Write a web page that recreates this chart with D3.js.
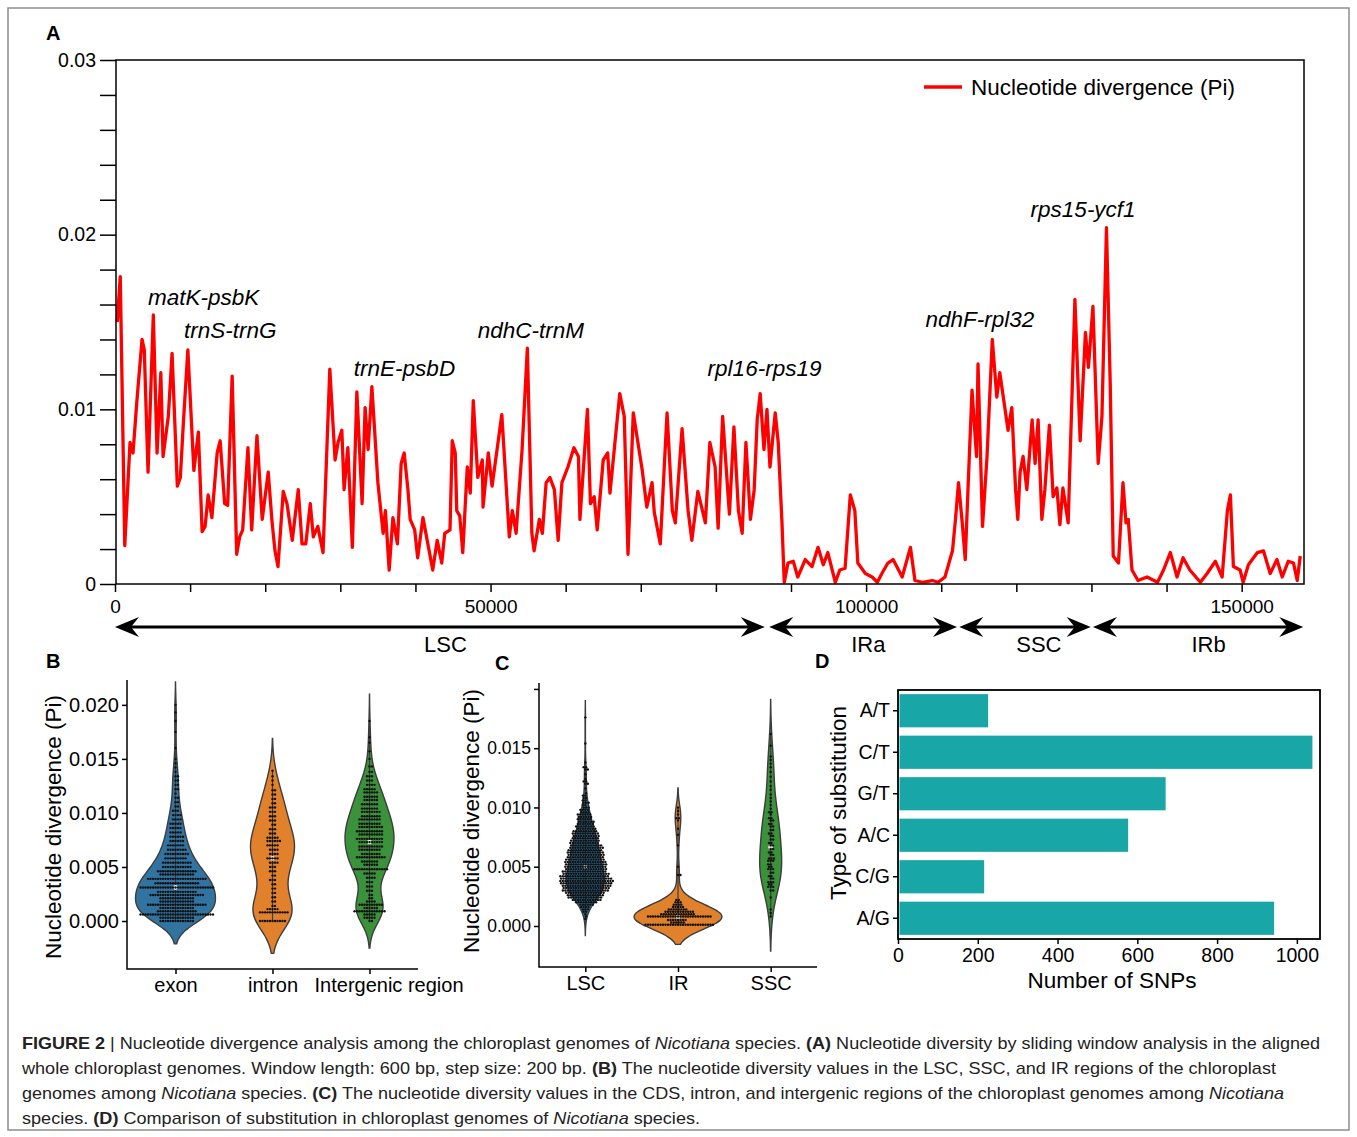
<!DOCTYPE html>
<html>
<head>
<meta charset="utf-8">
<script src="https://cdn.jsdelivr.net/npm/d3@7"></script>
<style>
  body { margin: 0; background: #fff; }
  svg text { font-family: "Liberation Sans", Arial, Helvetica, sans-serif; fill: #000; }
</style>
</head>
<body>
<svg id="fig" width="1357" height="1137"></svg>
<script>
// ---- data: panel A, sliding-window Pi (position bp, Pi) ----
const slidingWindow = [
  [300, .0150], [700, .0176], [1300, .0022], [2000, .0081], [2400, .0075], [2900, .0104], [3600, .0140], [3900, .0134],
  [4400, .0064], [5100, .0154], [5600, .0075], [6100, .0121], [6400, .0073], [7100, .0096], [7600, .0132], [8300, .0056],
  [8700, .0061], [9100, .0092], [9700, .0134], [10500, .0065], [11100, .0087], [11600, .0030], [12000, .0033], [12400, .0051],
  [12900, .0038], [13600, .0075], [14000, .0082], [14600, .0046], [15000, .0045], [15600, .0119], [16200, .0017], [16600, .0027],
  [17000, .0031], [17700, .0078], [18200, .0031], [18900, .0085], [19600, .0037], [20400, .0064], [20900, .0036], [21300, .0019],
  [21700, .0010], [22400, .0053], [22900, .0046], [23600, .0025], [24400, .0054], [24900, .0023], [25400, .0023], [26000, .0046],
  [26400, .0027], [27000, .0033], [27700, .0018], [28600, .0123], [29300, .0071], [29700, .0081], [30200, .0088], [30500, .0054],
  [31000, .0078], [31600, .0021], [32200, .0110], [32900, .0046], [33300, .0101], [33700, .0077], [34200, .0113], [35000, .0058],
  [35700, .0029], [36000, .0042], [36500, .0008], [37000, .0038], [37600, .0023], [38100, .0069], [38500, .0075], [39000, .0054],
  [39300, .0037], [39900, .0031], [40300, .0015], [41000, .0038], [42300, .0008], [42900, .0025], [43500, .0012], [43900, .0029],
  [44600, .0031], [44900, .0082], [45300, .0075], [45500, .0042], [45900, .0039], [46300, .0018], [46900, .0067], [47300, .0052],
  [47700, .0105], [48300, .0061], [48900, .0071], [49000, .0044], [49700, .0075], [50200, .0056], [50900, .0078], [51500, .0097],
  [52500, .0027], [52900, .0042], [53400, .0029], [54200, .0077], [54900, .0135], [55500, .0029], [55800, .0019], [56500, .0037],
  [56900, .0029], [57400, .0058], [57900, .0061], [58500, .0054], [59000, .0025], [59500, .0058], [60300, .0067], [61100, .0078],
  [61700, .0073], [61900, .0037], [62900, .0100], [63300, .0046], [63800, .0050], [64200, .0031], [65000, .0071], [65600, .0075],
  [65900, .0052], [67200, .0109], [67800, .0096], [68300, .0017], [69000, .0098], [70200, .0065], [70800, .0044], [71500, .0058],
  [71800, .0041], [72600, .0023], [73500, .0098], [74200, .0042], [74600, .0035], [75500, .0089], [76300, .0042], [76800, .0025],
  [77600, .0053], [78600, .0035], [79200, .0081], [79900, .0067], [80300, .0032], [80900, .0096], [81800, .0040], [82400, .0090],
  [83000, .0042], [83500, .0029], [84000, .0081], [84600, .0037], [85100, .0054], [85500, .0094], [85900, .0109], [86400, .0077],
  [86800, .0100], [87200, .0067], [87900, .0098], [88300, .0081], [88800, .0035], [89100, .0001], [89600, .0012], [90300, .0013],
  [90900, .0004], [91900, .0014], [92800, .0010], [93600, .0021], [94300, .0011], [94900, .0018], [95900, .0001], [96500, .0008],
  [97200, .0009], [97900, .0051], [98500, .0042], [98900, .0012], [99900, .0006], [100800, .0004], [101500, .0001], [102100, .0006],
  [102900, .0012], [103600, .0014], [104800, .0004], [105900, .0021], [106500, .0002], [107500, .0001], [108800, .0002], [109600, .0001],
  [110500, .0004], [111500, .0019], [111900, .0037], [112300, .0058], [112800, .0035], [113200, .0014], [113600, .0058], [114100, .0111],
  [114700, .0073], [114900, .0126], [115500, .0033], [116100, .0073], [116800, .0140], [117400, .0107], [117800, .0121], [118900, .0088],
  [119400, .0101], [119900, .0054], [120200, .0037], [120500, .0064], [120900, .0073], [121400, .0054], [122100, .0094], [122500, .0069],
  [122900, .0094], [123400, .0037], [123800, .0054], [124400, .0091], [124900, .0050], [125400, .0055], [125800, .0034], [126200, .0055],
  [126900, .0035], [127800, .0163], [128500, .0082], [129200, .0144], [129600, .0124], [130200, .0159], [130900, .0069], [131400, .0096],
  [132000, .0204], [132500, .0115], [132900, .0016], [133600, .0012], [134200, .0058], [134600, .0035], [134900, .0037], [135400, .0008],
  [136200, .0002], [137400, .0004], [138800, .0001], [139600, .0008], [140500, .0018], [141400, .0004], [142200, .0015], [143100, .0008],
  [144500, .0001], [145400, .0006], [146500, .0013], [147400, .0004], [148100, .0042], [148500, .0051], [148900, .0010], [149800, .0008],
  [150200, .0001], [150900, .0011], [152100, .0018], [152900, .0019], [153800, .0006], [154700, .0014], [155400, .0004], [156200, .0013],
  [156900, .0012], [157400, .0002], [157800, .0016]
]

const regions = [
  { name: 'LSC', start: 0, end: 86500, label: 44000 },
  { name: 'IRa', start: 87100, end: 112100, label: 100300 },
  { name: 'SSC', start: 112400, end: 129900, label: 123000 },
  { name: 'IRb', start: 130200, end: 158200, label: 145600 },
]

const geneLabels = [
  { text: 'matK-psbK', pos: 4400, y: .0160 },
  { text: 'trnS-trnG', pos: 9200, y: .0141 },
  { text: 'trnE-psbD', pos: 31800, y: .0119 },
  { text: 'ndhC-trnM', pos: 48300, y: .0141 },
  { text: 'rpl16-rps19', pos: 78900, y: .0119 },
  { text: 'ndhF-rpl32', pos: 107900, y: .0147 },
  { text: 'rps15-ycf1', pos: 121900, y: .0210 },
]

// ---- data: panel B (value level, number of windows at that level) ----
const categoriesB = ['exon', 'intron', 'Intergenic region']
const exonLevels = [
  [.0000, 14], [.0003, 14], [.0006, 30], [.0009, 16], [.0012, 14], [.0015, 24], [.0018, 14], [.0021, 14],
  [.0024, 22], [.0027, 16], [.0031, 30], [.0035, 18], [.0039, 24], [.0043, 14], [.0046, 16], [.0050, 12],
  [.0054, 12], [.0058, 9], [.0062, 10], [.0066, 8], [.0070, 7], [.0074, 6], [.0078, 6], [.0082, 5],
  [.0086, 5], [.0090, 5], [.0094, 4], [.0098, 4], [.0102, 3], [.0106, 2], [.0110, 2], [.0114, 2],
  [.0118, 1], [.0122, 2], [.0126, 2], [.0130, 2], [.0134, 2], [.0138, 1], [.0142, 1], [.0146, 1],
  [.0150, 1], [.0160, 1], [.0175, 1], [.0185, 1], [.0193, 1], [.0200, 1]
]
const intronLevels = [
  [.0000, 11], [.0008, 12], [.0011, 5], [.0014, 2], [.0018, 2], [.0022, 2], [.0026, 2], [.0030, 2],
  [.0034, 2], [.0038, 3], [.0042, 2], [.0046, 3], [.0050, 3], [.0054, 4], [.0058, 5], [.0062, 4],
  [.0066, 4], [.0070, 5], [.0074, 6], [.0077, 5], [.0081, 3], [.0085, 3], [.0089, 2], [.0093, 3],
  [.0097, 3], [.0101, 3], [.0105, 3], [.0109, 2], [.0113, 2], [.0117, 2], [.0121, 2], [.0126, 1],
  [.0130, 1], [.0134, 1], [.0139, 1]
]
const intergenicLevels = [
  [.0000, 2], [.0003, 5], [.0006, 5], [.0009, 13], [.0012, 6], [.0015, 10], [.0018, 4], [.0021, 2],
  [.0024, 2], [.0028, 3], [.0032, 3], [.0036, 3], [.0040, 4], [.0044, 5], [.0048, 14], [.0052, 6],
  [.0055, 7], [.0059, 12], [.0062, 8], [.0066, 9], [.0069, 10], [.0073, 10], [.0076, 11], [.0080, 10],
  [.0083, 11], [.0087, 10], [.0090, 9], [.0094, 9], [.0097, 8], [.0101, 8], [.0104, 7], [.0108, 7],
  [.0112, 6], [.0115, 6], [.0119, 6], [.0122, 5], [.0126, 4], [.0130, 3], [.0134, 3], [.0138, 2],
  [.0143, 2], [.0150, 1], [.0157, 1], [.0165, 1], [.0170, 1], [.0185, 1]
]

// ---- data: panel C ----
const categoriesC = ['LSC', 'IR', 'SSC']
const lscLevels = [
  [.0006, 1], [.0008, 1], [.0010, 1], [.0012, 2], [.0014, 3], [.0016, 4], [.0018, 6], [.0020, 9],
  [.0022, 12], [.0024, 14], [.0026, 15], [.0028, 16], [.0030, 19], [.0032, 19], [.0034, 20], [.0036, 21],
  [.0038, 22], [.0040, 21], [.0042, 20], [.0044, 19], [.0046, 18], [.0048, 17], [.0050, 17], [.0052, 17],
  [.0054, 17], [.0056, 16], [.0058, 15], [.0060, 15], [.0062, 15], [.0064, 14], [.0066, 14], [.0068, 13],
  [.0070, 12], [.0072, 12], [.0074, 11], [.0076, 11], [.0078, 11], [.0080, 10], [.0082, 8], [.0084, 8],
  [.0086, 7], [.0088, 7], [.0090, 6], [.0092, 6], [.0094, 6], [.0096, 4], [.0098, 4], [.0100, 3],
  [.0102, 2], [.0104, 3], [.0106, 2], [.0108, 2], [.0110, 2], [.0112, 1], [.0116, 1], [.0120, 2],
  [.0122, 2], [.0124, 1], [.0128, 1], [.0132, 2], [.0134, 2], [.0138, 1], [.0154, 1], [.0176, 1]
]
const irLevels = [
  [.0001, 28], [.0003, 6], [.0005, 8], [.0008, 26], [.0010, 14], [.0012, 12], [.0014, 8], [.0016, 5],
  [.0018, 4], [.0020, 3], [.0022, 2], [.0043, 2], [.0050, 1], [.0068, 1], [.0077, 1], [.0082, 1],
  [.0089, 1], [.0091, 2], [.0094, 1], [.0097, 1], [.0100, 1]
]
const sscLevels = [
  [.0008, 1], [.0011, 1], [.0014, 1], [.0024, 1], [.0030, 2], [.0033, 3], [.0035, 2], [.0037, 3],
  [.0040, 2], [.0042, 2], [.0045, 2], [.0048, 3], [.0050, 2], [.0052, 2], [.0055, 3], [.0057, 3],
  [.0060, 2], [.0062, 2], [.0065, 2], [.0068, 2], [.0070, 2], [.0073, 2], [.0076, 2], [.0078, 2],
  [.0081, 2], [.0084, 2], [.0086, 2], [.0089, 2], [.0091, 2], [.0094, 1], [.0096, 2], [.0099, 1],
  [.0102, 1], [.0105, 1], [.0108, 1], [.0111, 1], [.0115, 1], [.0118, 1], [.0122, 1], [.0126, 1],
  [.0130, 1], [.0134, 1], [.0137, 1], [.0140, 1], [.0143, 1], [.0152, 1], [.0162, 1]
]

// ---- data: panel D ----
const substitutions = ['A/T', 'C/T', 'G/T', 'A/C', 'C/G', 'A/G']
const snpCounts = [226, 1039, 671, 577, 216, 943]

const violinColors = ['#3274a1', '#e1812c', '#3a923a']

const svg = d3.select('#fig')

svg.append('rect')
  .attr('x', 8).attr('y', 8).attr('width', 1341).attr('height', 1122)
  .attr('fill', 'none').attr('stroke', '#8d8d8d').attr('stroke-width', 1.5)

const styleAxis = (g, size) => {
  g.attr('font-family', null).attr('font-size', size)
  g.select('.domain').remove()
  g.selectAll('line').attr('stroke', '#000').attr('stroke-width', 1.5)
  g.selectAll('text').attr('fill', '#000')
}

const panelLabel = (x, y, t) => svg.append('text')
  .attr('x', x).attr('y', y).attr('font-size', 20).attr('font-weight', 'bold').text(t)

// ================= panel A =================
const xA = d3.scaleLinear().domain([0, 158300]).range([115, 1304])
const yA = d3.scaleLinear().domain([0, 0.03]).range([584, 60])
const gA = svg.append('g')

panelLabel(46, 40, 'A')

gA.append('g')
  .attr('transform', 'translate(116,0)')
  .call(d3.axisLeft(yA)
    .tickValues(d3.range(16).map(i => i * 0.002))
    .tickSize(16).tickPadding(4)
    .tickFormat((d, i) => i % 5 ? '' : (i === 0 ? '0' : d3.format('.2f')(d))))
  .call(g => styleAxis(g, 19.5))

gA.append('g')
  .attr('transform', 'translate(0,584)')
  .call(d3.axisBottom(xA)
    .tickValues(d3.range(0, 160000, 10000))
    .tickSize(8).tickPadding(8)
    .tickFormat(d => d % 50000 ? '' : d))
  .call(g => styleAxis(g, 19))

gA.append('path')
  .datum(slidingWindow)
  .attr('fill', 'none')
  .attr('stroke', '#ff0000')
  .attr('stroke-width', 3.3)
  .attr('stroke-linejoin', 'round')
  .attr('d', d3.line().x(d => xA(d[0])).y(d => yA(d[1])))

gA.append('rect')
  .attr('x', 116).attr('y', 60).attr('width', 1188).attr('height', 524)
  .attr('fill', 'none').attr('stroke', '#000').attr('stroke-width', 1.5)

gA.selectAll('.gene')
  .data(geneLabels)
  .join('text')
  .attr('class', 'gene')
  .attr('x', d => xA(d.pos))
  .attr('y', d => yA(d.y))
  .attr('font-size', 22.5)
  .attr('font-style', 'italic')
  .text(d => d.text)

// legend
gA.append('line')
  .attr('x1', 924).attr('x2', 962).attr('y1', 87).attr('y2', 87)
  .attr('stroke', '#ff0000').attr('stroke-width', 3.3)
gA.append('text')
  .attr('x', 971).attr('y', 95).attr('font-size', 22.5)
  .text('Nucleotide divergence (Pi)')

// region arrows
const arrowY = 627
const head = (x, dir) => {
  const l = 24, h = 10, n = 16
  return `M${x},${arrowY}L${x - dir * l},${arrowY - h}L${x - dir * n},${arrowY}L${x - dir * l},${arrowY + h}Z`
}
const reg = gA.selectAll('.region').data(regions).join('g').attr('class', 'region')
reg.append('line')
  .attr('x1', d => xA(d.start) + 12).attr('x2', d => xA(d.end) - 12)
  .attr('y1', arrowY).attr('y2', arrowY)
  .attr('stroke', '#000').attr('stroke-width', 3)
reg.append('path').attr('d', d => head(xA(d.start), -1)).attr('fill', '#000')
reg.append('path').attr('d', d => head(xA(d.end), 1)).attr('fill', '#000')
reg.append('text')
  .attr('x', d => xA(d.label))
  .attr('y', 652)
  .attr('text-anchor', 'middle')
  .attr('font-size', 22)
  .text(d => d.name)

// ================= violin helpers =================
const expand = levels => levels.flatMap(([v, n]) => d3.range(n).map(() => v))

function kde(values, steps = 120) {
  const n = values.length
  const bw = d3.deviation(values) * Math.pow(n, -0.2)
  const lo = d3.min(values) - 2 * bw, hi = d3.max(values) + 2 * bw
  return d3.range(steps + 1).map(i => {
    const v = lo + (hi - lo) * i / steps
    return [v, d3.sum(values, x => Math.exp(-0.5 * ((v - x) / bw) ** 2))]
  })
}

function beeswarm(values, y, d) {
  const placed = []
  values.slice().sort((a, b) => a - b).forEach(v => {
    const py = y(v)
    const near = placed.filter(p => Math.abs(p.y - py) < d)
    const cands = [0]
    near.forEach(p => {
      const dx = Math.sqrt(d * d - (p.y - py) ** 2)
      cands.push(p.x + dx, p.x - dx)
    })
    cands.sort((a, b) => Math.abs(a) - Math.abs(b))
    const x = cands.find(c => near.every(p => (p.x - c) ** 2 + (p.y - py) ** 2 >= d * d - 1e-6))
    placed.push({ x, y: py, v })
  })
  return placed
}

function drawViolin(g, levels, cx, y, halfMax, color) {
  const values = expand(levels)
  const dens = kde(values)
  const dmax = d3.max(dens, d => d[1])
  const w = d => d[1] / dmax * halfMax

  g.append('path')
    .datum(dens)
    .attr('fill', color)
    .attr('stroke', '#3d3d3d')
    .attr('stroke-width', 1.4)
    .attr('d', d3.area()
      .y(d => y(d[0]))
      .x0(d => cx - w(d))
      .x1(d => cx + w(d))
      .curve(d3.curveBasis))

  g.append('line')
    .attr('x1', cx).attr('x2', cx)
    .attr('y1', y(d3.min(values))).attr('y2', y(d3.max(values)))
    .attr('stroke', '#3d3d3d').attr('stroke-width', 1.2)

  g.append('circle')
    .attr('cx', cx).attr('cy', y(d3.median(values)))
    .attr('r', 2.4).attr('fill', '#e8e8e8')

  g.selectAll(null)
    .data(beeswarm(values, y, 2.5))
    .join('circle')
    .attr('cx', d => cx + d.x)
    .attr('cy', d => d.y)
    .attr('r', 1.2)
    .attr('fill', '#111')
}

// ================= panel B =================
panelLabel(46, 668, 'B')
const xB = d3.scalePoint().domain(categoriesB).range([127, 418]).padding(0.5)
const yB = d3.scaleLinear().domain([-0.00444, 0.0223]).range([969, 680])
const gB = svg.append('g')

const levelsB = [exonLevels, intronLevels, intergenicLevels]
const halfB = [40, 22, 24.5]
categoriesB.forEach((c, i) => drawViolin(gB, levelsB[i], xB(c), yB, halfB[i], violinColors[i]))

gB.append('g')
  .attr('transform', 'translate(127,0)')
  .call(d3.axisLeft(yB).tickValues([0, 0.005, 0.01, 0.015, 0.02]).tickSize(5).tickPadding(3).tickFormat(d3.format('.3f')))
  .call(g => styleAxis(g, 20))
gB.append('g')
  .attr('transform', 'translate(0,969)')
  .call(d3.axisBottom(xB).tickSize(5).tickPadding(4))
  .call(g => styleAxis(g, 20))
  .call(g => g.selectAll('.tick text').filter(d => d === 'Intergenic region').attr('dx', 19))
gB.append('path').attr('d', 'M127,680V969H418').attr('fill', 'none').attr('stroke', '#000').attr('stroke-width', 1.5)
gB.append('text')
  .attr('transform', 'translate(61,827) rotate(-90)')
  .attr('text-anchor', 'middle').attr('font-size', 22.5)
  .text('Nucleotide divergence (Pi)')

// ================= panel C =================
panelLabel(495, 670, 'C')
const xC = d3.scalePoint().domain(categoriesC).range([539, 817]).padding(0.5)
const yC = d3.scaleLinear().domain([-0.00346, 0.0205]).range([967, 683])
const gC = svg.append('g')

const levelsC = [lscLevels, irLevels, sscLevels]
const halfC = [19, 44, 11]
categoriesC.forEach((c, i) => drawViolin(gC, levelsC[i], xC(c), yC, halfC[i], violinColors[i]))

gC.append('g')
  .attr('transform', 'translate(539,0)')
  .call(d3.axisLeft(yC).tickValues([0, 0.005, 0.01, 0.015, 0.02]).tickSize(5).tickPadding(3)
    .tickFormat(d => d > 0.018 ? '' : d3.format('.3f')(d)))
  .call(g => styleAxis(g, 17.5))
gC.append('g')
  .attr('transform', 'translate(0,967)')
  .call(d3.axisBottom(xC).tickSize(5).tickPadding(4))
  .call(g => styleAxis(g, 20))
gC.append('path').attr('d', 'M539,683V967H817').attr('fill', 'none').attr('stroke', '#000').attr('stroke-width', 1.5)
gC.append('text')
  .attr('transform', 'translate(479,821) rotate(-90)')
  .attr('text-anchor', 'middle').attr('font-size', 22.5)
  .text('Nucleotide divergence (Pi)')

// ================= panel D =================
panelLabel(815, 668, 'D')
const xD = d3.scaleLinear().domain([0, 1058]).range([898, 1320])
const yD = d3.scaleBand().domain(substitutions).range([690, 939]).paddingInner(0.2).paddingOuter(0.1)
const gD = svg.append('g')

gD.selectAll('.bar')
  .data(substitutions.map((s, i) => ({ s, n: snpCounts[i] })))
  .join('rect')
  .attr('class', 'bar')
  .attr('x', xD(0) + 1.5)
  .attr('y', d => yD(d.s))
  .attr('width', d => xD(d.n) - xD(0) - 1.5)
  .attr('height', yD.bandwidth())
  .attr('fill', '#19a6a6')

gD.append('g')
  .attr('transform', 'translate(0,939)')
  .call(d3.axisBottom(xD).tickValues(d3.range(0, 1001, 200)).tickSize(5).tickPadding(4).tickFormat(d3.format('d')))
  .call(g => styleAxis(g, 19.5))
gD.append('g')
  .attr('transform', 'translate(898,0)')
  .call(d3.axisLeft(yD).tickSize(5).tickPadding(3))
  .call(g => styleAxis(g, 19.5))
gD.append('rect')
  .attr('x', 898).attr('y', 690).attr('width', 422).attr('height', 249)
  .attr('fill', 'none').attr('stroke', '#000').attr('stroke-width', 1.8)
gD.append('text')
  .attr('x', 1112).attr('y', 988).attr('text-anchor', 'middle').attr('font-size', 22.5)
  .text('Number of SNPs')
gD.append('text')
  .attr('transform', 'translate(846,803) rotate(-90)')
  .attr('text-anchor', 'middle').attr('font-size', 22.5)
  .text('Type of substitution')

// ================= caption =================
const captionLines = [
  { w: 1298, parts: [['FIGURE 2', 'b'], [' | ', ''], ['Nucleotide divergence analysis among the chloroplast genomes of ', ''], ['Nicotiana', 'i'], [' species. ', ''], ['(A)', 'b'], [' Nucleotide diversity by sliding window analysis in the aligned', '']] },
  { w: 1254, parts: [['whole chloroplast genomes. Window length: 600 bp, step size: 200 bp. ', ''], ['(B)', 'b'], [' The nucleotide diversity values in the LSC, SSC, and IR regions of the chloroplast', '']] },
  { w: 1262, parts: [['genomes among ', ''], ['Nicotiana', 'i'], [' species. ', ''], ['(C)', 'b'], [' The nucleotide diversity values in the CDS, intron, and intergenic regions of the chloroplast genomes among ', ''], ['Nicotiana', 'i']] },
  { w: 678, parts: [['species. ', ''], ['(D)', 'b'], [' Comparison of substitution in chloroplast genomes of ', ''], ['Nicotiana', 'i'], [' species.', '']] },
]
const cap = svg.append('g')
captionLines.forEach((line, i) => {
  const t = cap.append('text')
    .attr('x', 22).attr('y', 1049 + i * 25)
    .attr('font-size', 17)
    .attr('textLength', line.w)
    .attr('lengthAdjust', 'spacingAndGlyphs')
    .style('font-family', '"Liberation Sans Narrow", "Arial Narrow", "Liberation Sans", Arial, sans-serif')
    .style('fill', '#222')
  line.parts.forEach(([s, f]) => {
    t.append('tspan')
      .attr('font-weight', f === 'b' ? 'bold' : null)
      .attr('font-style', f === 'i' ? 'italic' : null)
      .text(s)
  })
})
</script>
</body>
</html>
